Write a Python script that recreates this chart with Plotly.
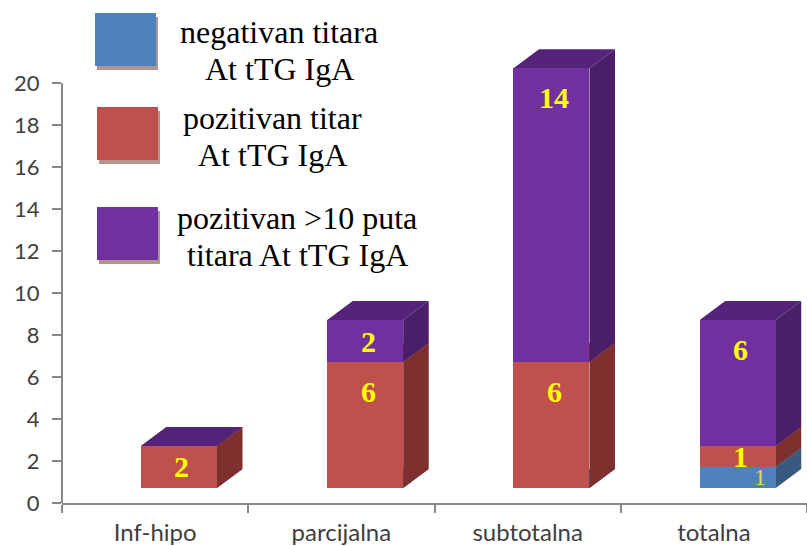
import plotly.graph_objects as go

# ---- data -------------------------------------------------------------
CATEGORIES = ["Inf-hipo", "parcijalna", "subtotalna", "totalna"]
NEGATIVAN = [0, 0, 0, 1]
POZITIVAN = [2, 6, 6, 1]
POZITIVAN_10X = [0, 2, 14, 6]
SERIES_NAMES = [
    "negativan titara<br>At tTG IgA",
    "pozitivan titar<br>At tTG IgA",
    "pozitivan >10 puta<br>titara At tTG IgA",
]
Y_TICKS = list(range(0, 21, 2))

SERIES = [NEGATIVAN, POZITIVAN, POZITIVAN_10X]

# ---- style ------------------------------------------------------------
FRONT = ["#4F81BD", "#C0504D", "#7030A0"]
SIDE = ["#375B80", "#7D302E", "#4A1E68"]
TOP = ["#41699A", "#8C3937", "#532479"]
AXIS = "#878787"
TEXT = "#404040"

FIG_W, FIG_H = 807, 546
M_L, M_R, M_T, M_B = 62, 0, 30, 43
PLOT_W = FIG_W - M_L - M_R
PLOT_H = FIG_H - M_T - M_B
Y_MAX = 22.54

# pseudo-3D box geometry (in axis units)
FLOOR = 0.72      # lift of the front plane above the value axis
BAR_W = 0.408
BAR_OFF = -0.076
DX = 0.137        # depth, horizontal
DY = 0.906        # depth, vertical


def px_x(p):
    return (p - M_L) / PLOT_W


def px_y(p):
    return (FIG_H - M_B - p) / PLOT_H


idx = list(range(len(CATEGORIES)))
fig = go.Figure()

# front faces
for s, vals in enumerate(SERIES):
    fig.add_trace(go.Bar(
        x=idx, y=vals, yaxis="y2",
        width=BAR_W, offset=BAR_OFF,
        marker=dict(color=FRONT[s], line=dict(width=0)),
        name=SERIES_NAMES[s].replace("<br>", " "),
        hoverinfo="skip",
    ))

shapes = []
annotations = []

# side and top faces, plus value labels
for i in idx:
    base = 0
    x0 = i + BAR_OFF
    x1 = x0 + BAR_W
    for s, vals in enumerate(SERIES):
        v = vals[i]
        top = base + v
        if v > 0:
            shapes.append(dict(
                type="path", xref="x", yref="y2", layer="below",
                path=f"M {x1},{base} L {x1 + DX},{base + DY} L {x1 + DX},{top + DY} L {x1},{top} Z",
                fillcolor=SIDE[s], line=dict(width=0),
            ))
        shapes.append(dict(
            type="path", xref="x", yref="y2", layer="below",
            path=f"M {x0},{top} L {x1},{top} L {x1 + DX},{top + DY} L {x0 + DX},{top + DY} Z",
            fillcolor=TOP[s], line=dict(width=0),
        ))
        if v > 0:
            ly = max(base + v / 2, top - 1.4)
            if s == 0:
                font = dict(family="Liberation Serif", size=24, color="#D9E04B")
                shift = 22
            else:
                font = dict(family="Liberation Serif", size=30, color="#FFFF00")
                shift = 3
            annotations.append(dict(
                x=(x0 + x1) / 2, y=ly, xref="x", yref="y2",
                text=f"<b>{v}</b>" if s else str(v),
                showarrow=False, font=font, xshift=shift,
                xanchor="center", yanchor="middle",
            ))
        base = top

# value axis line, drawn only up to the last tick
shapes.append(dict(
    type="line", xref="paper", yref="y", x0=0, x1=0, y0=0, y1=Y_TICKS[-1],
    line=dict(color=AXIS, width=2), layer="above",
))

# legend: swatches with a soft drop shadow, centred two-line captions
SWATCH_TOPS = [13, 107, 207]
SWATCH_LEFT = [95, 97, 97]
CAPTION_X = [279, 272, 297]
CAPTION_BASE = [42, 128, 228]
for s in range(3):
    l, t = SWATCH_LEFT[s], SWATCH_TOPS[s]
    shapes.append(dict(
        type="rect", xref="paper", yref="paper", layer="above",
        x0=px_x(l + 2), x1=px_x(l + 63), y0=px_y(t + 57), y1=px_y(t + 4),
        fillcolor="#B3958F", line=dict(width=0),
    ))
    shapes.append(dict(
        type="rect", xref="paper", yref="paper", layer="above",
        x0=px_x(l), x1=px_x(l + 61), y0=px_y(t + 53), y1=px_y(t),
        fillcolor=FRONT[s], line=dict(width=0),
    ))
    for k, line in enumerate(SERIES_NAMES[s].split("<br>")):
        annotations.append(dict(
            x=px_x(CAPTION_X[s]), y=px_y(CAPTION_BASE[s] + 37 * k - 10),
            xref="paper", yref="paper", text=line, showarrow=False,
            xanchor="center", yanchor="middle",
            font=dict(family="Liberation Serif", size=32, color="#000000"),
        ))

fig.update_layout(
    width=FIG_W, height=FIG_H,
    margin=dict(l=M_L, r=M_R, t=M_T, b=M_B, pad=0),
    paper_bgcolor="white", plot_bgcolor="white",
    barmode="stack", bargap=0, showlegend=False,
    shapes=shapes, annotations=annotations,
    xaxis=dict(
        range=[-0.5, len(CATEGORIES) - 0.5], tickmode="array",
        tickvals=idx, ticktext=CATEGORIES, ticks="",
        showline=True, linecolor=AXIS, linewidth=2,
        showgrid=False, zeroline=False, automargin=False,
        tickfont=dict(family="Lato", size=24, color=TEXT),
        ticklabelstandoff=7,
        minor=dict(tickmode="array",
                   tickvals=[i - 0.5 for i in range(len(CATEGORIES) + 1)],
                   ticks="outside", ticklen=8, tickcolor=AXIS, tickwidth=2,
                   showgrid=False),
    ),
    yaxis=dict(
        range=[0, Y_MAX], tickmode="array", tickvals=Y_TICKS,
        ticks="outside", ticklen=9, tickcolor=AXIS, tickwidth=2,
        showline=False, showgrid=False, zeroline=False, automargin=False,
        tickfont=dict(family="Lato", size=22, color=TEXT),
        ticklabelstandoff=8,
    ),
    yaxis2=dict(
        overlaying="y", range=[-FLOOR, Y_MAX - FLOOR], visible=False,
    ),
)

fig.write_html("out.html")
